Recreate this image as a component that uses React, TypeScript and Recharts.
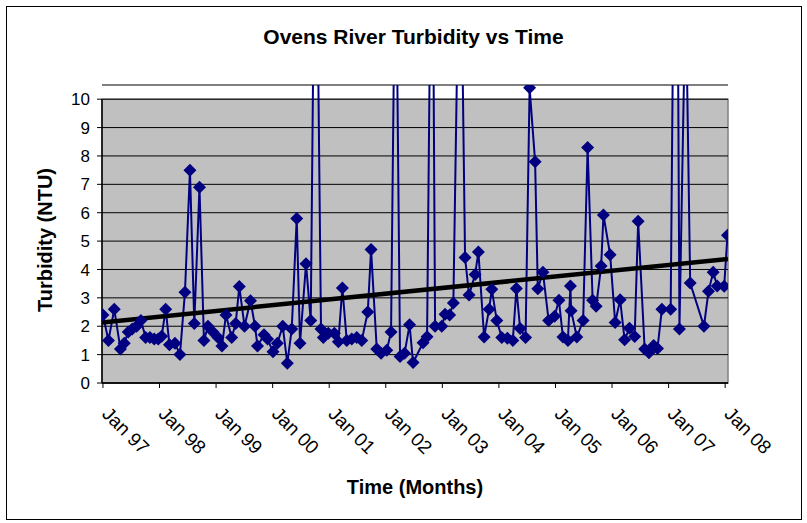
import React from "react";
import {
  ComposedChart,
  Line,
  XAxis,
  YAxis,
  CartesianGrid,
  ReferenceArea,
  ReferenceLine,
} from "recharts";

// months since Jan 97 (sample date) and turbidity reading in NTU
const months = [
  0, 1.17, 2.4, 3.71, 4.52, 5.37, 6.22, 7.15, 8.06, 9.06, 9.97, 10.89, 11.74,
  12.46, 13.31, 14.11, 15.28, 16.34, 17.4, 18.46, 19.38, 20.48, 21.43, 22.28,
  23.34, 24.41, 25.25, 26.1, 27.31, 28.16, 28.93, 30.03, 31.3, 32.26, 32.79,
  34.17, 34.92, 36.08, 36.99, 38.14, 39.11, 40.05, 41.11, 41.81, 43.08, 44.08,
  45.1, 46.26, 46.75, 47.81, 49.09, 49.94, 50.79, 51.72, 52.78, 53.84, 54.9,
  56.18, 56.88, 58.09, 59.0, 60.21, 61.12, 62.08, 63.03, 63.99, 65.05, 65.79,
  67.91, 68.76, 69.82, 70.46, 71.88, 72.58, 73.54, 74.34, 75.76, 76.82, 77.67,
  78.95, 79.65, 80.86, 81.92, 82.49, 83.55, 84.61, 85.8, 86.95, 87.71, 88.5,
  89.66, 90.51, 91.68, 92.25, 93.34, 94.55, 95.82, 96.73, 97.58, 98.64, 99.17,
  99.32, 100.53, 101.87, 102.82, 103.88, 104.63, 105.69, 106.18, 107.6, 108.66,
  109.72, 110.67, 111.69, 112.8, 113.54, 114.92, 115.83, 116.83, 117.64,
  118.57, 120.44, 121.6, 122.3, 123.62, 124.58, 127.5, 128.46, 129.46, 130.31,
  131.79, 132.49,
];

const turbidity = [
  2.4, 1.5, 2.6, 1.2, 1.4, 1.8, 1.9, 2.0, 2.2, 1.6, 1.6, 1.55, 1.55,
  1.65, 2.6, 1.35, 1.4, 1.0, 3.2, 7.5, 2.1, 6.9, 1.5, 2.0,
  1.8, 1.6, 1.3, 2.4, 1.6, 2.1, 3.4, 2.0, 2.9, 2.0, 1.3,
  1.7, 1.55, 1.1, 1.4, 2.0, 0.7, 1.9, 5.8, 1.4, 4.2, 2.2,
  20, 1.9, 1.6, 1.75, 1.75, 1.45, 3.35, 1.5, 1.55, 1.6, 1.5,
  2.5, 4.7, 1.2, 1.05, 1.15, 1.8, 17, 0.93, 1.05, 2.05, 0.72,
  1.42, 1.63, 20, 2.0, 2.0, 2.42, 2.4, 2.82, 18, 4.42, 3.1,
  3.82, 4.62, 1.62, 2.6, 3.3, 2.2, 1.6, 1.58, 1.5, 3.33, 1.92,
  1.6, 10.4, 7.8, 3.32, 3.9, 2.2, 2.35, 2.92, 1.62, 1.5, 3.42,
  2.55, 1.62, 2.2, 8.3, 2.92, 2.7, 4.12, 5.92, 4.52, 2.13,
  2.93, 1.52, 1.93, 1.64, 5.7, 1.2, 1.07, 1.32, 1.22,
  2.6, 2.6, 25, 1.9, 14, 3.52, 2.0, 3.23, 3.9, 3.42,
  3.41, 5.21,
];

const yearTicks = [0, 12, 24, 36, 48, 60, 72, 84, 96, 108, 120, 132];
const yearLabels = [
  "Jan 97", "Jan 98", "Jan 99", "Jan 00", "Jan 01", "Jan 02",
  "Jan 03", "Jan 04", "Jan 05", "Jan 06", "Jan 07", "Jan 08",
];
const yTicks = [0, 1, 2, 3, 4, 5, 6, 7, 8, 9, 10];

// linear trend line end points
const trendMonths = [-0.2, 132.6];
const trendValues = [2.13, 4.37];

const samples = months.map((m, i) => ({ m, v: turbidity[i] }));
const trend = trendMonths.map((m, i) => ({ m, v: trendValues[i] }));

const NAVY = "#000080";
const FONT = '"Liberation Sans", Arial, sans-serif';

function Diamond(props: any) {
  const { cx, cy, index } = props;
  if (cx == null || cy == null) return null;
  const r = 6.5;
  return (
    <polygon
      key={`d-${index}`}
      points={`${cx},${cy - r} ${cx + r},${cy} ${cx},${cy + r} ${cx - r},${cy}`}
      fill={NAVY}
    />
  );
}

function DateTick(props: any) {
  const { x, y, payload } = props;
  const i = yearTicks.indexOf(payload.value);
  return (
    <text
      transform={`translate(${x - 2},${y + 27}) rotate(45)`}
      textAnchor="start"
      fontSize={19}
      fontFamily={FONT}
      fill="#000"
    >
      {yearLabels[i]}
    </text>
  );
}

export default function App() {
  return (
    <div
      style={{
        position: "absolute",
        left: 0,
        top: 0,
        width: 807,
        height: 523,
        background: "#fff",
        fontFamily: FONT,
      }}
    >
      <div
        style={{
          position: "absolute",
          left: 6,
          top: 6,
          width: 794,
          height: 512,
          border: "1px solid #000",
        }}
      />
      <div
        style={{
          position: "absolute",
          left: 10,
          top: 26,
          width: 807,
          textAlign: "center",
          fontSize: 21,
          fontWeight: "bold",
          lineHeight: "22px",
        }}
      >
        Ovens River Turbidity vs Time
      </div>
      <div
        style={{
          position: "absolute",
          left: 45,
          top: 240,
          transform: "translate(-50%, -50%) rotate(-90deg)",
          fontSize: 20,
          fontWeight: "bold",
          whiteSpace: "nowrap",
        }}
      >
        Turbidity (NTU)
      </div>
      <div
        style={{
          position: "absolute",
          left: 415,
          top: 487,
          transform: "translate(-50%, -50%)",
          fontSize: 20,
          fontWeight: "bold",
          whiteSpace: "nowrap",
        }}
      >
        Time (Months)
      </div>
      <ComposedChart
        width={807}
        height={523}
        margin={{ top: 85, right: 79, bottom: 0, left: 0 }}
        style={{ position: "absolute", left: 0, top: 0 }}
      >
        <ReferenceArea
          x1={-0.2}
          x2={132.6}
          y1={0}
          y2={10}
          fill="#c0c0c0"
          fillOpacity={1}
          stroke="#808080"
          strokeWidth={1.5}
          zIndex={-200}
        />
        <CartesianGrid vertical={false} stroke="#000" strokeWidth={1} />
        <XAxis
          type="number"
          dataKey="m"
          domain={[-0.2, 132.6]}
          allowDataOverflow
          ticks={yearTicks}
          interval={0}
          height={140}
          tickSize={5}
          tickMargin={0}
          tick={<DateTick />}
          axisLine={{ stroke: "#000", strokeWidth: 1.5 }}
          tickLine={{ stroke: "#000" }}
        />
        <YAxis
          type="number"
          domain={[0, 10.5]}
          allowDataOverflow
          ticks={yTicks}
          interval={0}
          width={102}
          tickSize={5}
          tickMargin={7}
          axisLine={false}
          tickLine={{ stroke: "#000" }}
          tick={{ fontSize: 17, fill: "#000", fontFamily: FONT }}
        />
        <ReferenceLine
          segment={[
            { x: -0.2, y: 0 },
            { x: -0.2, y: 10 },
          ]}
          stroke="#000"
          strokeWidth={1.5}
        />
        <Line
          data={samples}
          dataKey="v"
          type="linear"
          stroke={NAVY}
          strokeWidth={2}
          dot={Diamond}
          activeDot={false}
          isAnimationActive={false}
        />
        <Line
          data={trend}
          dataKey="v"
          type="linear"
          stroke="#000"
          strokeWidth={4.5}
          dot={false}
          activeDot={false}
          isAnimationActive={false}
        />
      </ComposedChart>
    </div>
  );
}
